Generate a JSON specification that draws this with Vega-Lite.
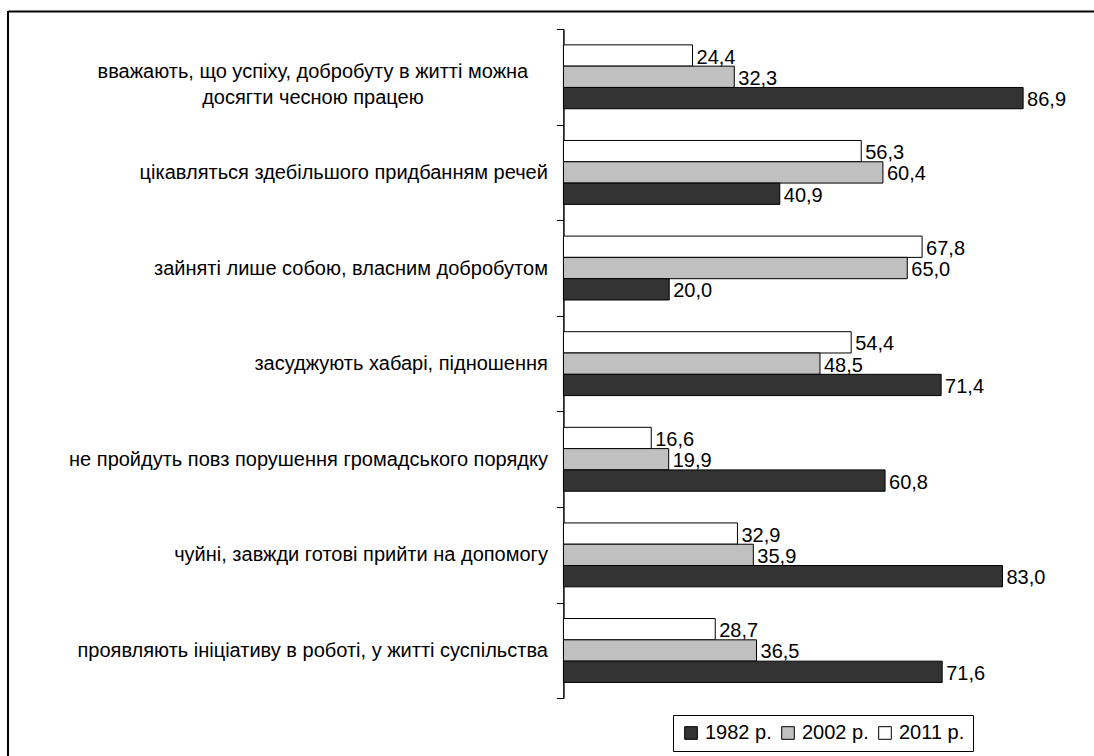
{
  "$schema": "https://vega.github.io/schema/vega-lite/v6.json",
  "autosize": "none",
  "padding": {"left": 8, "top": 11, "right": 0, "bottom": 0},
  "width": 1086,
  "height": 745,
  "background": "#ffffff",
  "data": {
    "values": [
      {"cat": "вважають, що успіху, добробуту в житті можна|досягти чесною працею", "year": "2011 р.", "v": 24.4},
      {"cat": "вважають, що успіху, добробуту в житті можна|досягти чесною працею", "year": "2002 р.", "v": 32.3},
      {"cat": "вважають, що успіху, добробуту в житті можна|досягти чесною працею", "year": "1982 р.", "v": 86.9},
      {"cat": "цікавляться здебільшого придбанням речей", "year": "2011 р.", "v": 56.3},
      {"cat": "цікавляться здебільшого придбанням речей", "year": "2002 р.", "v": 60.4},
      {"cat": "цікавляться здебільшого придбанням речей", "year": "1982 р.", "v": 40.9},
      {"cat": "зайняті лише собою, власним добробутом", "year": "2011 р.", "v": 67.8},
      {"cat": "зайняті лише собою, власним добробутом", "year": "2002 р.", "v": 65.0},
      {"cat": "зайняті лише собою, власним добробутом", "year": "1982 р.", "v": 20.0},
      {"cat": "засуджують хабарі, підношення", "year": "2011 р.", "v": 54.4},
      {"cat": "засуджують хабарі, підношення", "year": "2002 р.", "v": 48.5},
      {"cat": "засуджують хабарі, підношення", "year": "1982 р.", "v": 71.4},
      {"cat": "не пройдуть повз порушення громадського порядку", "year": "2011 р.", "v": 16.6},
      {"cat": "не пройдуть повз порушення громадського порядку", "year": "2002 р.", "v": 19.9},
      {"cat": "не пройдуть повз порушення громадського порядку", "year": "1982 р.", "v": 60.8},
      {"cat": "чуйні, завжди готові прийти на допомогу", "year": "2011 р.", "v": 32.9},
      {"cat": "чуйні, завжди готові прийти на допомогу", "year": "2002 р.", "v": 35.9},
      {"cat": "чуйні, завжди готові прийти на допомогу", "year": "1982 р.", "v": 83.0},
      {"cat": "проявляють ініціативу в роботі, у житті суспільства", "year": "2011 р.", "v": 28.7},
      {"cat": "проявляють ініціативу в роботі, у житті суспільства", "year": "2002 р.", "v": 36.5},
      {"cat": "проявляють ініціативу в роботі, у житті суспільства", "year": "1982 р.", "v": 71.6}
    ]
  },
  "layer": [
    {
      "data": {"values": [{"edge": -105}]},
      "mark": {"type": "rule", "color": "#000000", "strokeWidth": 2},
      "encoding": {
        "x": {"field": "edge", "type": "quantitative"}
      }
    },
    {
      "mark": {"type": "bar", "stroke": "#000000", "strokeWidth": 1},
      "encoding": {
        "y": {
          "field": "cat",
          "type": "nominal",
          "sort": null,
          "title": null,
          "scale": {"range": [18, 687.3], "paddingInner": 0, "paddingOuter": 0},
          "axis": {
            "offset": -555.4,
            "tickBand": "extent",
            "tickSize": 7,
            "tickColor": "#000000",
            "domainColor": "#000000",
            "domainWidth": 1.5,
            "labelPadding": {"condition": {"test": "length(datum.label) > 60", "value": 244}, "value": 9},
            "labelAlign": {"condition": {"test": "length(datum.label) > 60", "value": "center"}, "value": "right"},
            "labelOffset": {"condition": {"test": "length(datum.label) > 60", "value": -5}, "value": 0},
            "labelFontSize": 20,
            "labelFont": "Liberation Sans",
            "labelColor": "#000000",
            "labelLineHeight": 26,
            "labelLimit": 600,
            "labelExpr": "split(datum.label, '|')"
          }
        },
        "yOffset": {
          "field": "year",
          "type": "nominal",
          "sort": ["2011 р.", "2002 р.", "1982 р."],
          "scale": {"paddingInner": 0, "paddingOuter": 0.744}
        },
        "x": {
          "field": "v",
          "type": "quantitative",
          "scale": {"domain": [-105, 100.3], "nice": false, "zero": false},
          "axis": {
            "orient": "top",
            "title": null,
            "domain": true,
            "domainColor": "#000000",
            "domainWidth": 2,
            "ticks": false,
            "labels": false
          }
        },
        "color": {
          "field": "year",
          "type": "nominal",
          "scale": {
            "domain": ["1982 р.", "2002 р.", "2011 р."],
            "range": ["#333333", "#c0c0c0", "#ffffff"]
          },
          "legend": {
            "title": null,
            "orient": "none",
            "direction": "horizontal",
            "legendX": 665,
            "legendY": 704,
            "strokeColor": "#000000",
            "padding": 8,
            "symbolType": "square",
            "symbolSize": 160,
            "symbolStrokeColor": "#000000",
            "symbolStrokeWidth": 1,
            "symbolOpacity": 1,
            "labelFontSize": 20,
            "labelFont": "Liberation Sans",
            "labelColor": "#000000",
            "columnPadding": 6,
            "labelOffset": 4
          }
        }
      }
    },
    {
      "mark": {
        "type": "text",
        "align": "left",
        "baseline": "middle",
        "dx": 4,
        "dy": 2,
        "fontSize": 20,
        "font": "Liberation Sans",
        "color": "#000000"
      },
      "encoding": {
        "y": {"field": "cat", "type": "nominal", "sort": null},
        "yOffset": {"field": "year", "type": "nominal", "sort": ["2011 р.", "2002 р.", "1982 р."]},
        "x": {"field": "v", "type": "quantitative"},
        "text": {"field": "v", "type": "quantitative", "format": ".1f"}
      }
    }
  ],
  "config": {
    "locale": {
      "number": {"decimal": ",", "thousands": " ", "grouping": [3], "currency": ["", ""]}
    },
    "view": {"stroke": null},
    "axis": {"grid": false}
  }
}
